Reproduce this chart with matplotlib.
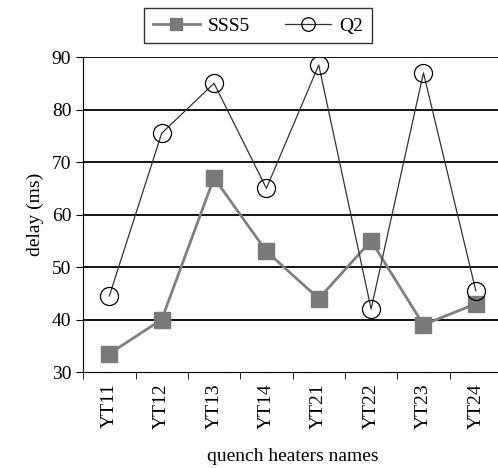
import numpy as np
import matplotlib
matplotlib.use('Agg')
import matplotlib.pyplot as plt

plt.rcParams['font.family'] = ['Liberation Serif', 'DejaVu Serif']

# Data
heaters = ['YT11', 'YT12', 'YT13', 'YT14', 'YT21', 'YT22', 'YT23', 'YT24']
sss5 = [33.5, 40, 67, 53, 44, 55, 39, 43]
q2 = [44.5, 75.5, 85, 65, 88.5, 42, 87, 45.5]
yticks = [30, 40, 50, 60, 70, 80, 90]

x = np.arange(len(heaters))

fig = plt.figure(figsize=(4.98, 4.68), dpi=100)
ax = fig.add_axes([0.167, 0.205, 0.841, 0.673])

# Horizontal grid lines
for y in yticks[1:]:
    ax.axhline(y, color='black', linewidth=1.3, zorder=1)

ax.plot(x, sss5, color='#808080', linewidth=2.0, marker='s', markersize=11,
        markerfacecolor='#7a7a7a', markeredgecolor='#7a7a7a', label='SSS5', zorder=3)
ax.plot(x, q2, color='#333333', linewidth=0.9, marker='o', markersize=13,
        markerfacecolor='none', markeredgecolor='black', markeredgewidth=0.9,
        label='Q2', zorder=4)

ax.set_xlim(-0.5, len(heaters) - 0.5)
ax.set_ylim(30, 90)
ax.set_yticks(yticks)
ax.set_yticklabels([str(v) for v in yticks], fontsize=14)

ax.set_xticks(x)
ax.set_xticklabels(heaters, rotation=90, fontsize=14)
ax.tick_params(axis='x', which='major', length=0, pad=8)
ax.set_xticks(np.arange(-0.5, len(heaters) - 0.5, 1), minor=True)
ax.tick_params(axis='x', which='minor', length=5, direction='out')
ax.tick_params(axis='y', length=5, direction='out')

for s in ['top', 'right']:
    ax.spines[s].set_visible(False)
ax.spines['left'].set_linestyle((0, (1, 0.5)))
ax.spines['bottom'].set_linestyle((0, (1, 0.5)))

ax.set_ylabel('delay (ms)', fontsize=14, labelpad=6)
ax.set_xlabel('quench heaters names', fontsize=14, labelpad=14)

leg = fig.legend(loc='center', bbox_to_anchor=(0.518, 0.945), ncol=2, fontsize=14,
                 frameon=True, fancybox=False, edgecolor='black', handlelength=2.4,
                 markerscale=0.75, columnspacing=1.8, borderpad=0.45, handletextpad=0.4)
leg.get_frame().set_linewidth(1.0)

plt.savefig('out.png', dpi=100)
